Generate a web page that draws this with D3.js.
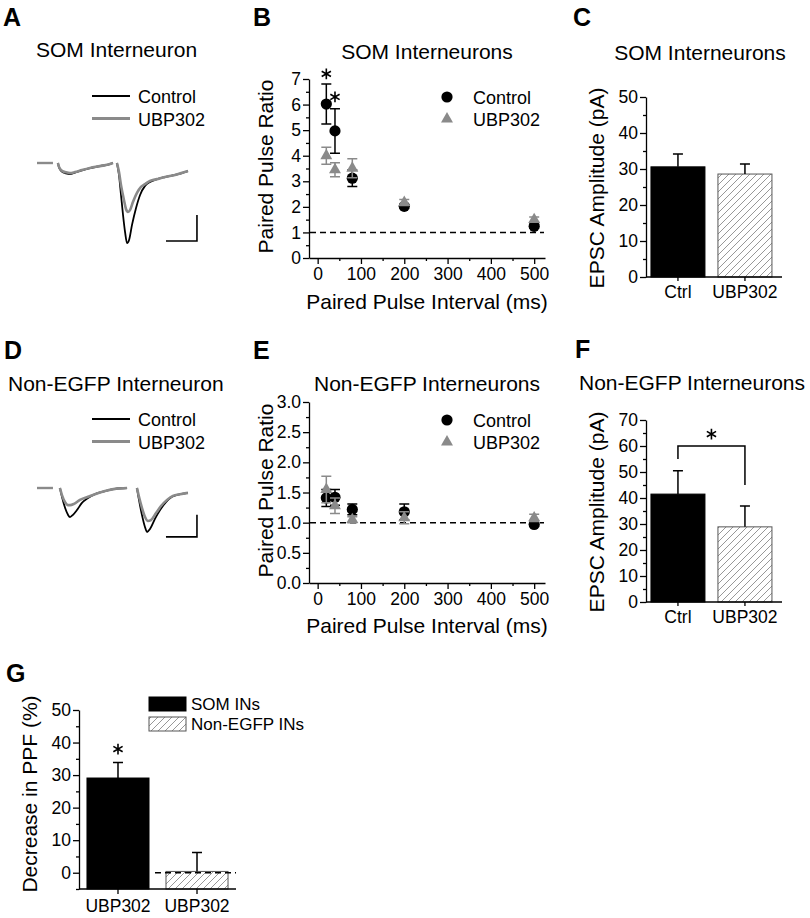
<!DOCTYPE html>
<html><head><meta charset="utf-8">
<script src="https://cdn.jsdelivr.net/npm/d3@7"></script>
<style>
body{margin:0;background:#fff;}
svg text{font-family:"Liberation Sans",Arial,Helvetica,sans-serif;fill:#000;}
</style></head><body>
<svg id="fig" width="810" height="918"></svg>
<script>
// ---------------- DATA ----------------
const seriesNames = ["Control", "UBP302"];
const intervals = [20, 40, 80, 200, 500];            // ms
const xTickVals = [0, 100, 200, 300, 400, 500];
// Panel B: SOM interneurons paired-pulse ratio
const somCtrlPPR = [6.02, 4.97, 3.12, 2.02, 1.24];
const somCtrlErr = [0.78, 0.87, 0.32, 0.08, 0.08];
const somUbpPPR  = [4.00, 3.45, 3.51, 2.17, 1.50];
const somUbpErr  = [0.33, 0.27, 0.37, 0.12, 0.10];
const somSigInterval = [20, 40];
const somSigLevel = [7.2, 6.3];
const somYTicks = [0, 1, 2, 3, 4, 5, 6, 7];
// Panel E: Non-EGFP interneurons paired-pulse ratio
const nonCtrlPPR = [1.41, 1.42, 1.22, 1.18, 0.97];
const nonCtrlErr = [0.14, 0.13, 0.09, 0.13, 0.03];
const nonUbpPPR  = [1.55, 1.28, 1.05, 1.08, 1.08];
const nonUbpErr  = [0.22, 0.13, 0.05, 0.10, 0.06];
const nonYTicks = [0, 0.5, 1.0, 1.5, 2.0, 2.5, 3.0];
// Panels C, F: EPSC amplitude
const ampCats = ["Ctrl", "UBP302"];
const somAmp = [30.6, 28.6];
const somAmpErr = [3.6, 2.8];
const somAmpTicks = [0, 10, 20, 30, 40, 50];
const nonAmp = [41.5, 28.9];
const nonAmpErr = [9.0, 8.0];
const nonAmpTicks = [0, 10, 20, 30, 40, 50, 60, 70];
const nonBracket = [55, 60, 45];   // left leg end, top, right leg end (pA)
const nonSigLevel = 64.6;
// Panel G: decrease in PPF
const ppfCats = ["SOM INs", "Non-EGFP INs"];
const ppfTickLabels = ["UBP302", "UBP302"];
const ppfDecrease = [29.1, 0.4];
const ppfErr = [4.8, 5.8];
const ppfTicks = [0, 10, 20, 30, 40, 50];
const ppfSigLevel = 38;
// Panels A, D: example traces [time ms, current pA]
const traceA_stub = [[0, 0], [10.3, 0]];
const traceA_ctrl1 = [[13.5,0],[14.2,-17],[16.1,-33],[18.7,-40],[21.3,-43],[24.5,-37],[29,-28],[34.2,-20],[40.6,-12],[47.1,-4],[49,0]];
const traceA_ubp1  = [[13.5,0],[14.2,-15],[16.1,-30],[18.7,-36],[21.3,-39],[24.5,-35],[29,-27],[34.2,-19],[40.6,-12],[47.1,-4],[49,0]];
const traceA_ctrl2 = [[51.6,0],[52.9,-46],[54.2,-123],[55.5,-200],[56.8,-265],[58.1,-308],[59.4,-296],[61.3,-238],[63.9,-173],[66.5,-123],[69.7,-88],[72.9,-73],[77.4,-62],[82.6,-54],[89,-46],[97.4,-31]];
const traceA_ubp2  = [[51.6,0],[52.9,-35],[54.2,-85],[56.1,-142],[57.4,-177],[58.7,-188],[60,-181],[61.9,-150],[64.5,-115],[67.1,-92],[69.7,-81],[72.9,-69],[77.4,-62],[82.6,-54],[89,-46],[97.4,-31]];
const traceD_stub = [[0, 0], [10.3, 0]];
const traceD_ctrl1 = [[14.8,0],[16.1,-20],[18.1,-45],[20,-61],[21.3,-66],[23.2,-61],[25.8,-50],[29,-34],[32.9,-23],[37.4,-14],[43.9,-7],[50.3,-2],[58.1,0]];
const traceD_ubp1  = [[14.8,0],[16.1,-16],[18.1,-32],[20,-39],[21.3,-39],[23.9,-36],[27.7,-27],[32.9,-20],[37.4,-14],[43.9,-7],[50.3,-2],[58.1,0]];
const traceD_ctrl2 = [[64.5,0],[65.8,-27],[67.7,-61],[69.7,-89],[71,-100],[72.9,-93],[76.1,-70],[79.4,-50],[83.2,-32],[87.1,-20],[92.3,-14],[97.4,-11]];
const traceD_ubp2  = [[64.5,0],[65.8,-20],[67.7,-45],[69.7,-66],[71.6,-75],[73.5,-73],[76.8,-57],[80,-41],[83.9,-27],[87.7,-18],[92.3,-14],[97.4,-11]];

// ---------------- DRAWING ----------------
const svg = d3.select("#fig");
svg.append("rect").attr("width", 810).attr("height", 918).attr("fill", "#fff");
const BLACK = "#000", GRAY = "#8a8a8a";
const FS_TITLE = 21, FS_TICK = 17.5, FS_LEG = 18, FS_LAB = 21;

const defs = svg.append("defs");
const pat = defs.append("pattern").attr("id", "hatch").attr("patternUnits", "userSpaceOnUse")
  .attr("width", 7).attr("height", 7);
pat.append("rect").attr("width", 7).attr("height", 7).attr("fill", "#fff");
pat.append("path").attr("d", "M-1,1 l2,-2 M0,7 l7,-7 M6,8 l2,-2")
  .attr("stroke", "#8c8c8c").attr("stroke-width", 0.9);

function txt(t, x, y, size, opts = {}) {
  const e = svg.append("text").attr("x", x).attr("y", y).attr("font-size", size).text(t);
  if (opts.anchor) e.attr("text-anchor", opts.anchor);
  if (opts.bold) e.attr("font-weight", "bold");
  return e;
}
function vlabel(t, bx, cy) {
  svg.append("text").attr("transform", `translate(${bx},${cy}) rotate(-90)`)
    .attr("text-anchor", "middle").attr("font-size", FS_LAB).text(t);
}
function styleAxis(g) {
  g.attr("font-size", FS_TICK);
  g.selectAll("line,path").attr("stroke", BLACK).attr("stroke-width", 1.3);
  g.selectAll("text").attr("fill", BLACK);
}
function yAxis(y, x0, major, minor, fmt) {
  const gm = svg.append("g").attr("transform", `translate(${x0},0)`)
    .call(d3.axisLeft(y).tickValues(minor).tickSize(3).tickFormat(""));
  gm.select(".domain").remove(); styleAxis(gm);
  const g = svg.append("g").attr("transform", `translate(${x0},0)`)
    .call(d3.axisLeft(y).tickValues(major).tickSize(6).tickSizeOuter(0).tickPadding(2).tickFormat(fmt));
  styleAxis(g);
}
const star = d3.symbol(d3.symbolAsterisk, 80);
function asterisk(x, y) {
  svg.append("path").attr("d", star()).attr("transform", `translate(${x},${y})`)
    .attr("fill", "none").attr("stroke", BLACK).attr("stroke-width", 1.6);
}

// ---- Trace panels (A, D) ----
function tracePanel(cfg) {
  const x = d3.scaleLinear().domain([0, 100]).range([37, 192]);
  const y = d3.scaleLinear().domain([0, -100]).range([cfg.y0, cfg.y0 + cfg.pxPer100]);
  const line = d3.line().x(d => x(d[0])).y(d => y(d[1])).curve(d3.curveMonotoneX);
  const draw = (d, c, w) => svg.append("path").attr("d", line(d)).attr("fill", "none")
    .attr("stroke", c).attr("stroke-width", w).attr("stroke-linejoin", "round");
  draw(cfg.stub, GRAY, 2.4);
  cfg.ctrl.forEach(d => draw(d, BLACK, 1.8));
  cfg.ubp.forEach(d => draw(d, GRAY, 2.6));
  // scale bar
  const [t0, i0] = cfg.barAnchor;
  svg.append("path").attr("d",
    `M${x(t0 - cfg.barMs)},${y(i0)}H${x(t0)}V${y(i0 + cfg.barPA)}`)
    .attr("fill", "none").attr("stroke", BLACK).attr("stroke-width", 1.6);
  // legend
  [[BLACK, 1.8], [GRAY, 2.8]].forEach((s, i) => {
    const ly = cfg.legY + i * 22.5;
    svg.append("line").attr("x1", 92).attr("x2", 130).attr("y1", ly).attr("y2", ly)
      .attr("stroke", s[0]).attr("stroke-width", s[1]);
    txt(seriesNames[i], 138, ly + 7, FS_LEG);
  });
}
txt("A", 3, 26, 25, { bold: true });
txt("SOM Interneuron", 36, 57, FS_TITLE);
tracePanel({ y0: 163, pxPer100: 26, stub: traceA_stub, ctrl: [traceA_ctrl1, traceA_ctrl2],
  ubp: [traceA_ubp1, traceA_ubp2], barAnchor: [103.2, -300], barMs: 20, barPA: 100, legY: 96 });
txt("D", 4, 359, 25, { bold: true });
txt("Non-EGFP Interneuron", 8, 391, FS_TITLE);
tracePanel({ y0: 488, pxPer100: 44, stub: traceD_stub, ctrl: [traceD_ctrl1, traceD_ctrl2],
  ubp: [traceD_ubp1, traceD_ubp2], barAnchor: [103.2, -111], barMs: 20, barPA: 50, legY: 419 });

// ---- PPR scatter panels (B, E) ----
function pprPanel(cfg) {
  const x = d3.scaleLinear().domain([-20, 525]).range([309, 545]);
  const y = d3.scaleLinear().domain(cfg.yDomain).range(cfg.yRange);
  const y0 = cfg.yRange[0];
  // x axis
  const minorX = d3.range(50, 525, 100);
  const gxm = svg.append("g").attr("transform", `translate(0,${y0})`)
    .call(d3.axisBottom(x).tickValues(minorX).tickSize(3).tickFormat(""));
  gxm.select(".domain").remove(); styleAxis(gxm);
  const gx = svg.append("g").attr("transform", `translate(0,${y0})`)
    .call(d3.axisBottom(x).tickValues(xTickVals).tickSize(6).tickSizeOuter(0).tickPadding(4));
  styleAxis(gx);
  const step = cfg.yTicks[1] - cfg.yTicks[0];
  yAxis(y, 309, cfg.yTicks, cfg.yTicks.slice(0, -1).map(v => v + step / 2), cfg.fmt);
  // reference line
  svg.append("line").attr("x1", 310).attr("x2", 544).attr("y1", y(1)).attr("y2", y(1))
    .attr("stroke", BLACK).attr("stroke-width", 1.5).attr("stroke-dasharray", "6,4");
  const tri = d3.symbol(d3.symbolTriangle, 62);
  const series = [
    { v: cfg.ctrl, e: cfg.ctrlErr, c: BLACK, circle: true },
    { v: cfg.ubp, e: cfg.ubpErr, c: GRAY, circle: false }];
  series.forEach(s => {
    intervals.forEach((t, i) => {
      const cx = x(t), top = y(s.v[i] + s.e[i]), bot = y(s.v[i] - s.e[i]);
      svg.append("path").attr("d", `M${cx},${top}V${bot}M${cx - 5},${top}h10M${cx - 5},${bot}h10`)
        .attr("stroke", s.c).attr("stroke-width", 1.5).attr("fill", "none");
      if (s.circle) svg.append("circle").attr("cx", cx).attr("cy", y(s.v[i])).attr("r", 5.6).attr("fill", s.c);
      else svg.append("path").attr("d", tri()).attr("transform", `translate(${cx},${y(s.v[i])})`).attr("fill", s.c);
    });
  });
  // legend
  svg.append("circle").attr("cx", 447).attr("cy", cfg.legY).attr("r", 5.6).attr("fill", BLACK);
  svg.append("path").attr("d", tri()).attr("transform", `translate(447,${cfg.legY + 22})`).attr("fill", GRAY);
  txt(seriesNames[0], 473, cfg.legY + 6.5, FS_LEG);
  txt(seriesNames[1], 473, cfg.legY + 28.5, FS_LEG);
  if (cfg.sig) cfg.sig.t.forEach((t, i) => asterisk(x(t), y(cfg.sig.lv[i])));
  txt(cfg.title, 427, cfg.titleY, FS_TITLE, { anchor: "middle" });
  txt("Paired Pulse Interval (ms)", 427, cfg.xLabY, FS_LAB, { anchor: "middle" });
  vlabel("Paired Pulse Ratio", 273, (cfg.yRange[0] + cfg.yRange[1]) / 2 - 2);
}
txt("B", 253, 26, 25, { bold: true });
pprPanel({ yDomain: [0, 7], yRange: [258, 79], yTicks: somYTicks, fmt: d3.format("d"),
  ctrl: somCtrlPPR, ctrlErr: somCtrlErr, ubp: somUbpPPR, ubpErr: somUbpErr,
  sig: { t: somSigInterval, lv: somSigLevel }, legY: 97, title: "SOM Interneurons", titleY: 59, xLabY: 309 });
txt("E", 253, 359, 25, { bold: true });
pprPanel({ yDomain: [0, 3], yRange: [583, 402], yTicks: nonYTicks, fmt: d3.format(".1f"),
  ctrl: nonCtrlPPR, ctrlErr: nonCtrlErr, ubp: nonUbpPPR, ubpErr: nonUbpErr,
  legY: 420, title: "Non-EGFP Interneurons", titleY: 391, xLabY: 633 });

// ---- Bar panels (C, F, G) ----
function barPanel(cfg) {
  const x = d3.scaleBand().domain(cfg.cats).range(cfg.xRange)
    .paddingInner(cfg.pi).paddingOuter(cfg.po).align(cfg.align);
  const y = d3.scaleLinear().domain(cfg.yDomain).range(cfg.yRange);
  const base = y(cfg.yDomain[0]);
  cfg.cats.forEach((c, i) => {
    const v = cfg.vals[i];
    svg.append("rect").attr("x", x(c)).attr("width", x.bandwidth())
      .attr("y", y(v)).attr("height", base - y(v))
      .attr("fill", i === 0 ? BLACK : "url(#hatch)")
      .attr("stroke", i === 0 ? BLACK : "#555").attr("stroke-width", 1);
    const cx = x(c) + x.bandwidth() / 2, top = y(v + cfg.errs[i]);
    svg.append("path").attr("d", `M${cx},${y(v)}V${top}M${cx - 5},${top}h10`)
      .attr("stroke", BLACK).attr("stroke-width", 1.5).attr("fill", "none");
  });
  // x axis
  const gx = svg.append("g").attr("transform", `translate(0,${base})`)
    .call(d3.axisBottom(x).tickSize(cfg.xTickSize).tickSizeOuter(0).tickPadding(cfg.xTickPad)
      .tickFormat((d, i) => cfg.tickLabels[i]));
  styleAxis(gx);
  gx.select(".domain").attr("d", `M${cfg.xRange[0]},0H${cfg.xRange[1]}`);
  const t0 = cfg.yTicks[0], st = cfg.yTicks[1] - cfg.yTicks[0];
  const minor = d3.range(t0 + st / 2, cfg.yTicks[cfg.yTicks.length - 1], st);
  if (cfg.yDomain[0] < t0) minor.unshift(cfg.yDomain[0]);
  yAxis(y, cfg.xRange[0], cfg.yTicks, minor, d3.format("d"));
  return { x, y };
}
txt("C", 573, 26, 25, { bold: true });
txt("SOM Interneurons", 700, 60, FS_TITLE, { anchor: "middle" });
barPanel({ cats: ampCats, tickLabels: ampCats, vals: somAmp, errs: somAmpErr, xRange: [646, 782],
  pi: 0.194, po: 0.112, align: 0.33, yDomain: [0, 50], yRange: [277, 97], yTicks: somAmpTicks,
  xTickSize: 4, xTickPad: 5 });
vlabel("EPSC Amplitude (pA)", 604, 188);

txt("F", 575, 358, 25, { bold: true });
txt("Non-EGFP Interneurons", 692, 390, FS_TITLE, { anchor: "middle" });
const F = barPanel({ cats: ampCats, tickLabels: ampCats, vals: nonAmp, errs: nonAmpErr, xRange: [646, 782],
  pi: 0.194, po: 0.112, align: 0.33, yDomain: [0, 70], yRange: [602, 420], yTicks: nonAmpTicks,
  xTickSize: 4, xTickPad: 5 });
vlabel("EPSC Amplitude (pA)", 604, 512);
{
  const bw = F.x.bandwidth() / 2;
  const xl = F.x(ampCats[0]) + bw, xr = F.x(ampCats[1]) + bw;
  svg.append("path").attr("d",
    `M${xl},${F.y(nonBracket[0])}V${F.y(nonBracket[1])}H${xr}V${F.y(nonBracket[2])}`)
    .attr("fill", "none").attr("stroke", BLACK).attr("stroke-width", 1.5);
  asterisk((xl + xr) / 2, F.y(nonSigLevel));
}

txt("G", 6, 682, 25, { bold: true });
const G = barPanel({ cats: ppfCats, tickLabels: ppfTickLabels, vals: ppfDecrease, errs: ppfErr, xRange: [79, 236],
  pi: 0.215, po: 0.101, align: 0.5, yDomain: [-5, 50], yRange: [889, 710], yTicks: ppfTicks,
  xTickSize: 5, xTickPad: 6 });
vlabel("Decrease in PPF (%)", 37, 794);
{
  svg.append("line").attr("x1", G.x(ppfCats[1]) - 11).attr("x2", 236)
    .attr("y1", G.y(0)).attr("y2", G.y(0))
    .attr("stroke", BLACK).attr("stroke-width", 1.5).attr("stroke-dasharray", "6,4");
  asterisk(G.x(ppfCats[0]) + G.x.bandwidth() / 2, G.y(ppfSigLevel));
  // legend
  ppfCats.forEach((c, i) => {
    const ly = 697 + i * 20;
    svg.append("rect").attr("x", 149).attr("y", ly).attr("width", 37).attr("height", 14)
      .attr("fill", i === 0 ? BLACK : "url(#hatch)").attr("stroke", i === 0 ? BLACK : "#555");
    txt(c, 191, ly + 13, 17);
  });
}
</script>
</body></html>
